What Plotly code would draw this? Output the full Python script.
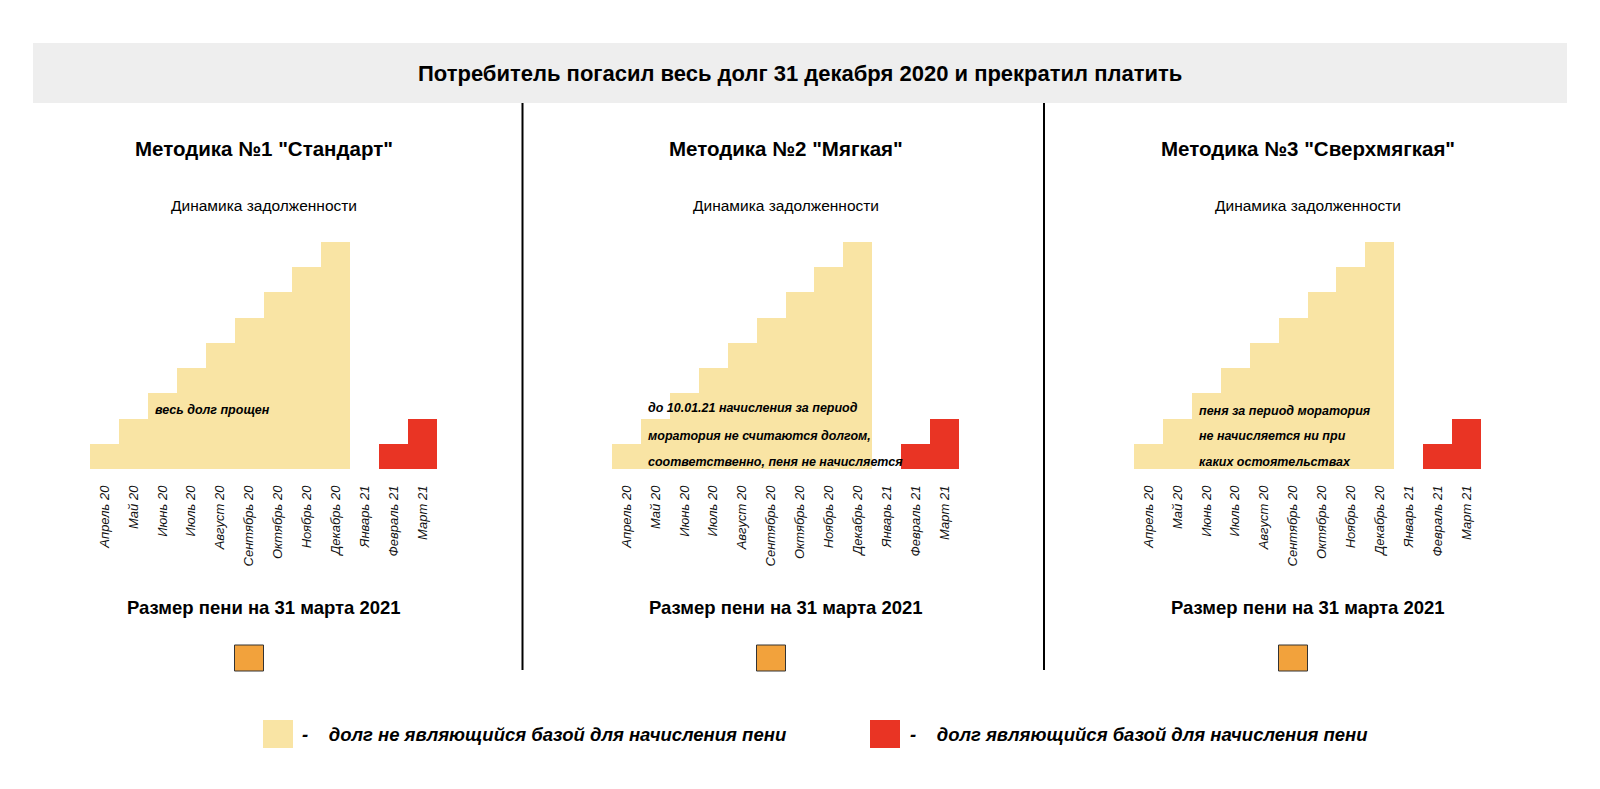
import plotly.graph_objects as go

W, H = 1600, 789

months = ["Апрель 20", "Май 20", "Июнь 20", "Июль 20", "Август 20", "Сентябрь 20",
          "Октябрь 20", "Ноябрь 20", "Декабрь 20", "Январь 21", "Февраль 21", "Март 21"]
debt = [1, 2, 3, 4, 5, 6, 7, 8, 9, 0, 1, 2]
is_base = [False] * 10 + [True] * 2

methods = ['Методика №1 "Стандарт"', 'Методика №2 "Мягкая"', 'Методика №3 "Сверхмягкая"']
notes = [
    ["весь долг прощен"],
    ["до 10.01.21 начисления за период", "моратория не считаются долгом,",
     "соответственно, пеня не начисляется"],
    ["пеня за период моратория", "не начисляется ни при", "каких остоятельствах"],
]
main_title = "Потребитель погасил весь долг 31 декабря 2020 и прекратил платить"
sub_title = "Динамика задолженности"
penalty_title = "Размер пени на 31 марта 2021"
legend_items = ["долг не являющийся базой для начисления пени",
                "долг являющийся базой для начисления пени"]

YELLOW = "#F9E4A4"
RED = "#E93424"
ORANGE = "#F2A23C"
FONT = "Liberation Sans"

# page body has an 8px margin, so shift everything back by it
OFF = 8

def px(x):
    return (x - OFF) / W

def py(y):
    return 1 - (y - OFF) / H

fig = go.Figure()

panel_left = [90, 612, 1134]
panel_w = 347
colors = [RED if b else YELLOW for b in is_base]

shapes = []
annotations = []

# header
shapes.append(dict(type="rect", xref="paper", yref="paper", x0=px(33), x1=px(1567),
                   y0=py(103), y1=py(43), fillcolor="#EEEEEE", line=dict(width=0), layer="below"))
annotations.append(dict(text="<b>" + main_title + "</b>", x=px(800), y=py(73), xref="paper", yref="paper",
                        xanchor="center", yanchor="middle", showarrow=False,
                        font=dict(size=22, color="black", family=FONT)))

# separators
for xs in [522.5, 1044]:
    shapes.append(dict(type="line", xref="paper", yref="paper", x0=px(xs), x1=px(xs),
                       y0=py(103), y1=py(670), line=dict(color="black", width=2)))

for i in range(3):
    n = i + 1
    xa = "x" if n == 1 else "x%d" % n
    ya = "y" if n == 1 else "y%d" % n
    fig.add_trace(go.Bar(x=list(range(len(months))), y=debt, marker=dict(color=colors, line=dict(width=0)),
                         width=1, xaxis=xa, yaxis=ya, showlegend=False, hoverinfo="skip"))
    left = panel_left[i]
    cx = left + panel_w / 2
    fig.update_layout(**{
        ("xaxis" if n == 1 else "xaxis%d" % n): dict(
            domain=[px(left), px(left + panel_w)], range=[-0.5, 11.5], anchor=ya,
            tickmode="array", tickvals=list(range(len(months))), ticktext=months,
            tickangle=-90, showgrid=False, zeroline=False, showline=False, ticks="",
            ticklabelstandoff=13,
            tickfont=dict(size=13, family=FONT, color="#111", style="italic")),
        ("yaxis" if n == 1 else "yaxis%d" % n): dict(
            domain=[py(469), py(242)], range=[0, 9], anchor=xa, visible=False,
            showgrid=False, zeroline=False),
    })
    annotations.append(dict(text="<b>" + methods[i] + "</b>", x=px(cx), y=py(148), xref="paper",
                            yref="paper", xanchor="center", yanchor="middle", showarrow=False,
                            font=dict(size=20.5, color="black", family=FONT)))
    annotations.append(dict(text=sub_title, x=px(cx), y=py(205), xref="paper", yref="paper",
                            xanchor="center", yanchor="middle", showarrow=False,
                            font=dict(size=15.5, color="black", family=FONT)))
    annotations.append(dict(text="<b>" + penalty_title + "</b>", x=px(cx), y=py(607), xref="paper",
                            yref="paper", xanchor="center", yanchor="middle", showarrow=False,
                            font=dict(size=18.5, color="black", family=FONT)))
    sq = cx - 14
    shapes.append(dict(type="rect", xref="paper", yref="paper", x0=px(sq - 15), x1=px(sq + 14),
                       y0=py(671), y1=py(645), fillcolor=ORANGE, line=dict(color="#333", width=1)))
    note_x = [153, 646, 1197][i]
    note_y = [[410], [408, 436, 462], [411, 436, 462]][i]
    for line, yy in zip(notes[i], note_y):
        annotations.append(dict(text="<b><i>" + line + "</i></b>", x=px(note_x), y=py(yy),
                                xref="paper", yref="paper", xanchor="left", yanchor="middle",
                                showarrow=False, font=dict(size=12.5, color="black", family=FONT)))

# legend
for (sx, txt_x, col), txt in zip([(263, 300, YELLOW), (870, 908, RED)], legend_items):
    shapes.append(dict(type="rect", xref="paper", yref="paper", x0=px(sx), x1=px(sx + 30),
                       y0=py(748), y1=py(720), fillcolor=col, line=dict(width=0)))
    annotations.append(dict(text="<b><i>-    " + txt + "</i></b>", x=px(txt_x), y=py(734),
                            xref="paper", yref="paper", xanchor="left", yanchor="middle",
                            showarrow=False, font=dict(size=18.5, color="black", family=FONT)))

fig.update_layout(width=W, height=H, margin=dict(l=0, r=0, t=0, b=0), bargap=0,
                  plot_bgcolor="white", paper_bgcolor="white",
                  shapes=shapes, annotations=annotations)

fig.write_html("out.html")
